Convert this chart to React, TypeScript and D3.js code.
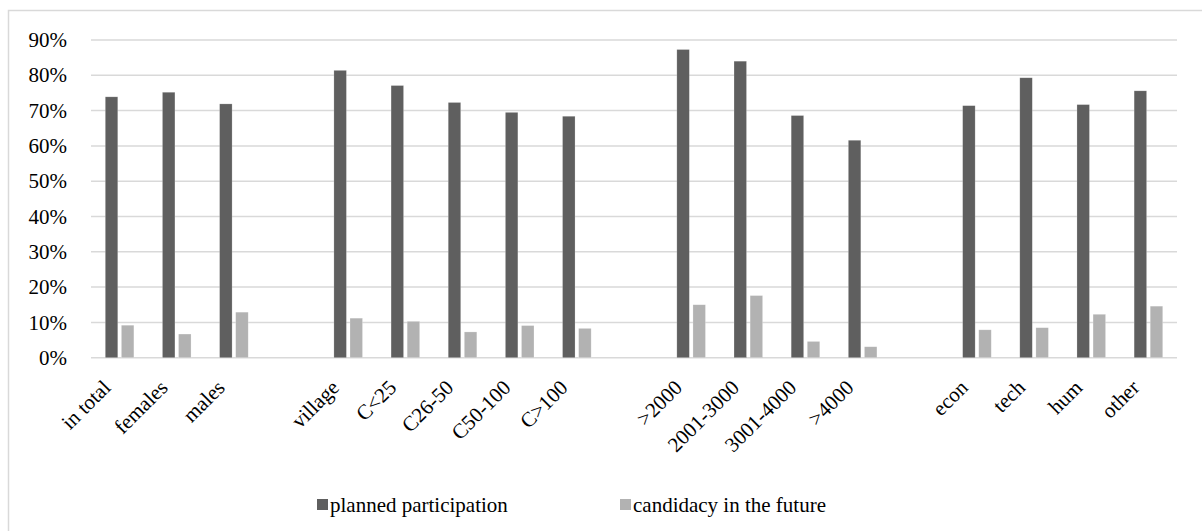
import React from "react";
import * as d3 from "d3";

// Category slots; empty strings are spacer slots between the groups.
const categories: string[] = [
  "in total", "females", "males", "",
  "village", "C<25", "C26-50", "C50-100", "C>100", "",
  ">2000", "2001-3000", "3001-4000", ">4000", "",
  "econ", "tech", "hum", "other",
];

// Shares in percent (null for spacer slots).
const plannedParticipation: (number | null)[] = [
  73.9, 75.2, 71.9, null,
  81.4, 77.1, 72.3, 69.5, 68.4, null,
  87.3, 84.0, 68.6, 61.6, null,
  71.4, 79.3, 71.7, 75.6,
];
const candidacyInFuture: (number | null)[] = [
  9.2, 6.7, 12.9, null,
  11.2, 10.3, 7.3, 9.1, 8.3, null,
  15.0, 17.6, 4.6, 3.1, null,
  7.9, 8.5, 12.3, 14.6,
];

const seriesNames = ["planned participation", "candidacy in the future"];
const seriesColors = ["#5f5f5f", "#b2b2b2"];
const yTicks = [0, 10, 20, 30, 40, 50, 60, 70, 80, 90];

const W = 1202;
const H = 531;
const FONT = "'Liberation Serif', 'Times New Roman', serif";

export default function App() {
  const left = 91;
  const right = 1177;
  const top = 40;
  const bottom = 357.7;

  const x = d3
    .scaleBand<number>()
    .domain(d3.range(categories.length))
    .range([left, right])
    .padding(0);
  const inner = d3
    .scaleBand<number>()
    .domain([0, 1])
    .range([0, x.bandwidth()])
    .paddingInner(0.224)
    .paddingOuter(0.887);
  const y = d3.scaleLinear().domain([0, 90]).range([bottom, top]);

  const series = [plannedParticipation, candidacyInFuture];
  const textStyle = { fontFamily: FONT, fontSize: 21 };

  return (
    <svg
      width={W}
      height={H}
      style={{ position: "absolute", left: 0, top: 0, background: "#fff" }}
    >
      <rect x={8.5} y={10.5} width={W + 10} height={H + 10} fill="none" stroke="#d9d9d9" strokeWidth={1.5} />

      {yTicks.map((t) => (
        <g key={t}>
          <line x1={left} x2={right} y1={y(t)} y2={y(t)} stroke="#d9d9d9" strokeWidth={1.5} />
          <text x={67} y={y(t)} dy="0.34em" textAnchor="end" style={textStyle} fill="#000">
            {t}%
          </text>
        </g>
      ))}

      {series.map((vals, si) =>
        vals.map((v, i) =>
          v == null ? null : (
            <rect
              key={`${si}-${i}`}
              x={(x(i) as number) + (inner(si) as number)}
              y={y(v)}
              width={inner.bandwidth()}
              height={y(0) - y(v)}
              fill={seriesColors[si]}
              stroke="#ffffff"
              strokeOpacity={0.35}
              strokeWidth={0.6}
            />
          )
        )
      )}

      {categories.map((c, i) =>
        c === "" ? null : (
          <text
            key={c}
            transform={`translate(${(x(i) as number) + x.bandwidth() / 2 - 13},${bottom + 26}) rotate(-45)`}
            textAnchor="end"
            dy="0.35em"
            style={textStyle}
            fill="#000"
          >
            {c}
          </text>
        )
      )}

      {seriesNames.map((n, i) => {
        const lx = i === 0 ? 317 : 620;
        return (
          <g key={n}>
            <rect x={lx} y={499} width={11} height={11} fill={seriesColors[i]} />
            <text x={lx + 13} y={512} style={textStyle} fill="#000">
              {n}
            </text>
          </g>
        );
      })}
    </svg>
  );
}
